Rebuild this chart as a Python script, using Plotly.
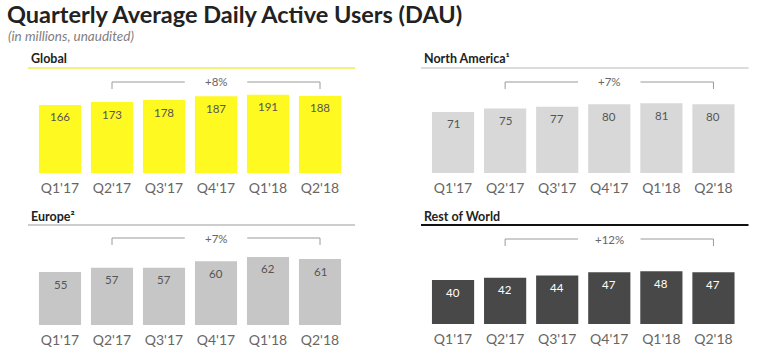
import plotly.graph_objects as go

W, H = 761, 360

quarters = ["Q1'17", "Q2'17", "Q3'17", "Q4'17", "Q1'18", "Q2'18"]
global_dau = [166, 173, 178, 187, 191, 188]
na_dau = [71, 75, 77, 80, 81, 80]
europe_dau = [55, 57, 57, 60, 62, 61]
row_dau = [40, 42, 44, 47, 48, 47]

panel_titles = ["Global", "North America¹", "Europe²", "Rest of World"]
growth_labels = ["+8%", "+7%", "+7%", "+12%"]


def X(px):
    return px / W


def Y(py):
    return 1 - py / H


FONT = "Lato"

panels = [
    dict(vals=global_dau, color="#FFF922", tcolor="#555555", x=(34, 346), yb=173, yt=90,
         rng=(0, 83 / 0.41), hy=68, hcol="#F4F27A", hw=2, bry=82, axis=1),
    dict(vals=na_dau, color="#D8D8D8", tcolor="#555555", x=(427, 739.5), yb=173, yt=90,
         rng=(0, 83 / 0.86), hy=68, hcol="#CFCFCF", hw=1.5, bry=82, axis=2),
    dict(vals=europe_dau, color="#C6C6C6", tcolor="#555555", x=(34, 346), yb=325, yt=247,
         rng=(30.5, 30.5 + 78 / 2.16), hy=225, hcol="#BDBDBD", hw=1.5, bry=238, axis=3),
    dict(vals=row_dau, color="#484848", tcolor="#FFFFFF", x=(427, 739.5), yb=324, yt=247,
         rng=(0, 77 / 1.1), hy=225, hcol="#111111", hw=2, bry=239, axis=4),
]

fig = go.Figure()
layout = {}
shapes = []
annotations = []

for i, p in enumerate(panels):
    n = p["axis"]
    xa = "x" if n == 1 else f"x{n}"
    ya = "y" if n == 1 else f"y{n}"
    fig.add_trace(go.Bar(
        x=quarters, y=p["vals"], xaxis=xa, yaxis=ya,
        marker=dict(color=p["color"], line=dict(width=0)),
        hoverinfo="x+y", showlegend=False,
    ))
    for q, v in zip(quarters, p["vals"]):
        annotations.append(dict(text=str(v), xref=xa, yref=ya, x=q, y=v,
                                yshift=-12, xanchor="center", yanchor="middle",
                                showarrow=False,
                                font=dict(family=FONT, size=11.5, color=p["tcolor"])))
    xkey = "xaxis" if n == 1 else f"xaxis{n}"
    ykey = "yaxis" if n == 1 else f"yaxis{n}"
    layout[xkey] = dict(
        domain=[X(p["x"][0]), X(p["x"][1])], anchor=ya, type="category",
        showgrid=False, zeroline=False, showline=False, ticks="",
        ticklabelstandoff=5,
        tickfont=dict(family=FONT, size=14, color="#666666"),
        fixedrange=True,
    )
    layout[ykey] = dict(
        domain=[Y(p["yb"]), Y(p["yt"])], anchor=xa, range=list(p["rng"]),
        visible=False, fixedrange=True,
    )
    x0h = p["x"][0] - 6
    x1h = p["x"][1] + 9
    shapes.append(dict(type="line", xref="paper", yref="paper",
                       x0=X(x0h), x1=X(x1h), y0=Y(p["hy"]), y1=Y(p["hy"]),
                       line=dict(color=p["hcol"], width=p["hw"])))
    annotations.append(dict(text=f"<b>{panel_titles[i]}</b>", xref="paper", yref="paper",
                            x=X(x0h + 1), y=Y(p["hy"] - 9), xanchor="left", yanchor="middle",
                            showarrow=False,
                            font=dict(family=FONT, size=12.5, color="#222222")))
    bt = Y(p["bry"])
    bb = Y(p["bry"] + 7)
    bc = dict(color="#9A9A9A", width=1)
    gap = 0.6
    shapes += [
        dict(type="line", xref=xa, yref="paper", x0=1, x1=1, y0=bb, y1=bt, line=bc),
        dict(type="line", xref=xa, yref="paper", x0=1, x1=3 - gap, y0=bt, y1=bt, line=bc),
        dict(type="line", xref=xa, yref="paper", x0=3 + gap, x1=5, y0=bt, y1=bt, line=bc),
        dict(type="line", xref=xa, yref="paper", x0=5, x1=5, y0=bt, y1=bb, line=bc),
    ]
    annotations.append(dict(text=growth_labels[i], xref=xa, yref="paper", x=3, y=bt,
                            xanchor="center", yanchor="middle", showarrow=False,
                            font=dict(family=FONT, size=11.5, color="#666666")))

annotations.append(dict(text="<b>Quarterly Average Daily Active Users (DAU)</b>",
                        xref="paper", yref="paper", x=X(5), y=Y(14), xanchor="left",
                        yanchor="middle", showarrow=False,
                        font=dict(family=FONT, size=23.5, color="#222222")))
annotations.append(dict(text="<i>(in millions, unaudited)</i>",
                        xref="paper", yref="paper", x=X(6), y=Y(36), xanchor="left",
                        yanchor="middle", showarrow=False,
                        font=dict(family=FONT, size=13.5, color="#808080")))

fig.update_layout(
    width=W, height=H, margin=dict(l=0, r=0, t=0, b=0),
    paper_bgcolor="white", plot_bgcolor="white",
    bargap=0.19, shapes=shapes, annotations=annotations,
    font=dict(family=FONT),
    **layout,
)

fig.write_html("out.html", config={"displayModeBar": False},
               post_script="document.body.style.margin='0px';document.body.style.overflow='hidden';")
